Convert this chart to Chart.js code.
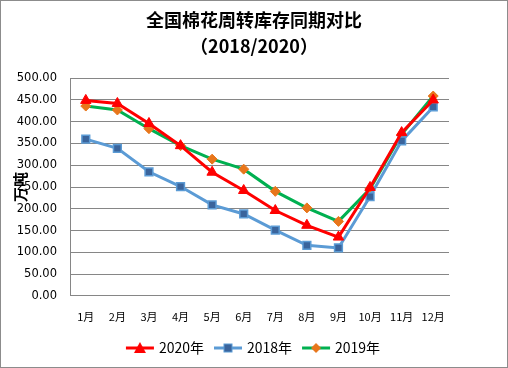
<!DOCTYPE html>
<html>
<head>
<meta charset="utf-8">
<script src="https://cdn.jsdelivr.net/npm/chart.js@4"></script>
<style>
  html, body { margin: 0; padding: 0; background: #fff; }
  #wrap { width: 508px; height: 368px; box-sizing: border-box; border: 1px solid #8c8c8c; }
</style>
</head>
<body>
<div id="wrap"><canvas id="c" width="506" height="366"></canvas></div>
<script>
const months = ["1月", "2月", "3月", "4月", "5月", "6月", "7月", "8月", "9月", "10月", "11月", "12月"];
const stock2020 = [449, 442, 396, 345, 284, 242, 196, 162, 135, 249, 375, 450];
const stock2018 = [360, 339, 285, 251, 209, 188, 151, 116, 110, 228, 356, 434];
const stock2019 = [436, 427, 384, 345, 314, 291, 240, 202, 171, 246, 371, 459];

// small legend swatch: line + marker
function swatch(lineColor, drawMarker) {
  const cv = document.createElement("canvas");
  cv.width = 30; cv.height = 14;
  const g = cv.getContext("2d");
  g.strokeStyle = lineColor;
  g.lineWidth = 3;
  g.beginPath(); g.moveTo(1, 7); g.lineTo(29, 7); g.stroke();
  drawMarker(g);
  return cv;
}

const sw2020 = swatch("#ff0000", g => {
  g.fillStyle = "#ff0000";
  g.beginPath(); g.moveTo(15, 1); g.lineTo(21, 12); g.lineTo(9, 12); g.closePath(); g.fill();
});
const sw2018 = swatch("#5b9bd5", g => {
  g.fillStyle = "#3a649c"; g.fillRect(11, 3, 8, 8);
  g.strokeStyle = "#5b9bd5"; g.lineWidth = 1; g.strokeRect(11, 3, 8, 8);
});
const sw2019 = swatch("#00b050", g => {
  g.fillStyle = "#e8761b";
  g.beginPath(); g.moveTo(15, 2); g.lineTo(20, 7); g.lineTo(15, 12); g.lineTo(10, 7); g.closePath(); g.fill();
});

new Chart(document.getElementById("c"), {
  type: "line",
  data: {
    labels: months,
    datasets: [{
      label: "2020年",
      data: stock2020,
      borderColor: "#ff0000",
      backgroundColor: "#ff0000",
      borderWidth: 3,
      pointStyle: "triangle",
      pointRadius: 6,
      pointBorderWidth: 1,
      legendImg: sw2020
    }, {
      label: "2018年",
      data: stock2018,
      borderColor: "#5b9bd5",
      backgroundColor: "#3a649c",
      pointBorderColor: "#5b9bd5",
      borderWidth: 3,
      pointStyle: "rect",
      pointRadius: 5.5,
      pointBorderWidth: 1.5,
      legendImg: sw2018
    }, {
      label: "2019年",
      data: stock2019,
      borderColor: "#00b050",
      backgroundColor: "#e8761b",
      pointBorderColor: "#e8761b",
      borderWidth: 3,
      pointStyle: "rectRot",
      pointRadius: 5,
      pointBorderWidth: 1,
      legendImg: sw2019
    }]
  },
  options: {
    responsive: false,
    animation: false,
    layout: { padding: { left: 0, right: 0, top: 0, bottom: 2 } },
    plugins: {
      title: {
        display: true,
        text: ["全国棉花周转库存同期对比", "（2018/2020）"],
        color: "#000",
        font: { family: "'Noto Sans CJK SC'", size: 18, weight: "bold", lineHeight: 1.45 },
        padding: { top: 6, bottom: 19 }
      },
      legend: {
        position: "bottom",
        labels: {
          usePointStyle: true,
          pointStyleWidth: 24,
          color: "#000",
          font: { family: "'Noto Sans CJK SC'", size: 14 },
          padding: 12,
          generateLabels: chart => chart.data.datasets.map((ds, i) => ({
            text: ds.label,
            pointStyle: ds.legendImg,
            fillStyle: ds.borderColor,
            strokeStyle: ds.borderColor,
            lineWidth: 0,
            hidden: false,
            datasetIndex: i
          }))
        }
      },
      tooltip: { enabled: false }
    },
    scales: {
      x: {
        offset: true,
        grid: { display: false },
        border: { display: true, color: "#868686", width: 1 },
        ticks: { color: "#000", font: { family: "'Noto Sans CJK SC'", size: 11 }, maxRotation: 0, autoSkip: false, padding: 6 }
      },
      y: {
        min: 0,
        max: 500,
        afterFit: s => { s.width = 69; },
        grid: { color: "#868686", lineWidth: 1, drawTicks: false },
        border: { display: true, color: "#868686", width: 1 },
        ticks: {
          stepSize: 50,
          color: "#000",
          padding: 13,
          font: { family: "'DejaVu Sans'", size: 11.5 },
          callback: v => v.toFixed(2)
        },
        title: {
          display: true,
          text: "万吨",
          color: "#000",
          font: { family: "'Noto Sans CJK SC'", size: 15, weight: "bold" },
          padding: { top: 10, bottom: 0 }
        }
      },
      // empty right-hand space, keeps title and legend centred on the whole chart
      yPad: {
        position: "right",
        min: 0,
        max: 1,
        afterFit: s => { s.width = 58; },
        grid: { display: false },
        border: { display: false },
        ticks: { display: false }
      }
    }
  }
});
</script>
</body>
</html>
